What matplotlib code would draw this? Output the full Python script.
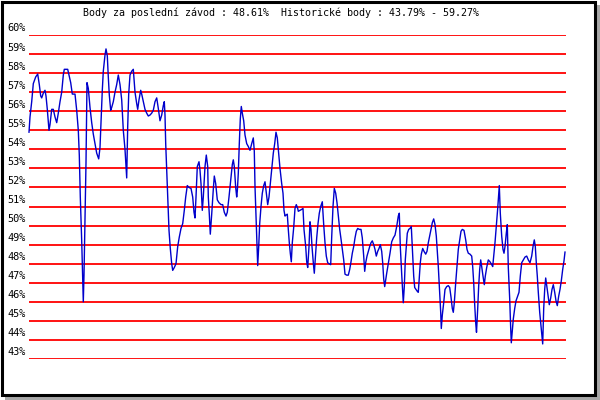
import matplotlib
matplotlib.use("Agg")
import matplotlib.pyplot as plt
from matplotlib.patches import Rectangle

title = "Body za poslední závod : 48.61%  Historické body : 43.79% - 59.27%"
y_ticks = list(range(43, 61))

# race position along the axis and score in percent
race = [
    0, 1, 2.7, 4.3, 6.7, 8.7, 10.3, 11.7, 12.7, 14.3, 16, 17, 18.3, 20, 21, 22.7,
    24.3, 26, 27.7, 29.3, 31, 32.7, 34.3, 35.3, 38.7, 40, 41.7, 43.3, 46, 47.7,
    49.3, 50.3, 51.3, 52.7, 53.7, 54.3, 55, 56, 57, 58, 59.3, 61, 62.7, 64.3, 66,
    67.7, 69.7, 71, 72, 73.3, 74.3, 76, 77, 78.3, 79.3, 80.3, 81.7, 82.7, 84.3,
    86, 87.7, 89.3, 91,
    92.7, 94.3, 96, 97, 97.7, 98.7, 99.7, 101, 102.7, 104.3, 106, 107.7, 108.7,
    110, 111.7, 112.7, 114.3, 116, 117.7, 119.3, 121, 122.7, 124.3, 126, 127.7,
    129.3, 131, 132.7, 134.3, 135.3, 136, 136.7, 137.7, 138.7, 140, 141.3, 142.7,
    143.7, 145.3, 147, 148.7, 150.3, 152, 153.7, 155.3, 156.7, 158.3, 160, 162,
    163.7, 165, 166, 167, 168.3, 170, 171, 172, 173.3, 174.3, 176, 177.3,
    178.7, 179.3, 180.3, 181.3, 182.7, 184.3, 185.3, 186.7, 188.3, 190, 192,
    193.7, 195.3, 197, 198.3, 200, 201.7, 203.3, 204.3, 205.3, 206.7, 207.7,
    208.3, 209.3, 210.3, 211.3, 212.3, 213.3, 214.7, 216, 217.7, 219.3, 221,
    222.7, 224.3, 225.3, 226, 227, 228, 228.7, 229.7, 230.7, 232, 233.3, 234.7,
    236, 237.3, 238.7, 240, 241.3, 242.7, 244.3, 245.7, 247, 248.3, 249.7, 251,
    252.7, 254, 255, 256, 257, 258.3, 259.3, 260.3, 261.3, 262.3, 263.3, 264.7,
    266, 267.3, 268.7,
    269.3, 271, 272.7, 274, 275, 276.7, 277.7, 278.7, 280, 281, 282, 283, 284.3,
    285.3, 286.7, 287.7, 289, 290.3, 291.7, 293.3, 294.7, 296, 297.3, 298.7, 300,
    301.7, 302.7, 304, 305.3, 306.7, 308, 309.3, 310.7, 312, 313.3, 314.7, 316,
    317.7, 319.3, 320.7, 322, 323.3, 324.7, 326, 327.3, 328.7, 330.3, 332, 333.3,
    334.7, 335.7, 336.7, 338, 339.3, 340.7, 342, 343.3, 344.7, 346, 347.3, 348.7,
    350, 351.3, 352.7, 353.7, 354.7, 355.7,
    357.7, 359.3, 361, 362.7, 364.3, 366, 367.7, 369.3, 370.3, 371.3, 372.7,
    373.7, 374.3, 375.3, 376.3, 377.3, 378.3, 379.7, 381, 382.3, 383.7, 384.7,
    385.7, 387, 388.3, 389.3, 390.3, 391.3, 392.3, 393.7, 395, 396.7, 398, 399.3,
    400.7, 402, 403.3, 404.7, 406, 407.3, 408.3, 409.3, 410.7, 411.7, 412.3,
    413.3, 414.7, 416, 417.7, 419.3, 420.7, 422, 423.3, 424.3, 425.3, 426.7, 428,
    429.3, 430.7, 432, 433.3, 435, 436.7, 438, 439.3, 441, 442.7, 443.7, 444.7,
    445.7, 446.7, 447.5,
    448.7, 449.7, 450.7, 451.7, 452.7, 454, 455.3, 456.3, 457.7, 459.3, 461,
    462.7, 463.7, 464.7, 466, 467.3, 468.7, 469.7, 470.3, 471.3, 472.7, 474, 475,
    476, 477.3, 478.3, 479.3, 480.7, 481.7, 482.3, 483.3, 484.3, 485.7, 487,
    488.7, 490, 491.3, 492.7, 494.3, 496, 497.7, 499.3, 501, 502.7, 504, 505.3,
    506.3, 507.3, 508.3, 509.3, 510.7, 512, 513, 513.7, 514.7, 515.7, 516.7,
    517.7, 519, 520.3, 521.7, 523, 524.3, 525.7, 527, 528.3, 529.7, 531, 532.3,
    533.7, 535, 536,
]
score = [
    54.9, 55.7, 56.5, 57.45, 57.8, 57.95, 57.4, 56.8, 56.7, 56.95, 57.1, 56.8,
    56.1, 55.0, 55.3, 56.1, 56.1, 55.7, 55.4, 55.9, 56.5, 57.0, 57.9, 58.2, 58.2,
    57.9, 57.5, 56.9, 56.9, 56.05, 55.0, 53.7, 51.5, 49.2, 47.1, 46.0, 47.4, 50.3,
    53.3, 57.5, 57.2, 56.2, 55.4, 54.8, 54.3, 53.8, 53.5, 54.1, 55.4, 57.1, 58.1,
    58.95, 59.27, 58.9, 57.8, 56.85, 56.05, 56.2, 56.5, 57.0, 57.4, 57.9, 57.4,
    56.6, 55.0, 54.0, 53.1, 52.5, 55.2, 56.9, 57.9, 58.1, 58.2, 57.0, 56.4, 56.1,
    56.6, 57.1, 56.9, 56.5, 56.1, 55.9, 55.75, 55.8, 55.9, 56.05, 56.5, 56.7,
    56.15, 55.5, 55.8, 56.3, 56.5, 55.8, 54.3, 52.9, 51.5, 49.75, 48.8, 48.0,
    47.65, 47.8, 48.0, 48.9, 49.4, 49.85, 50.1, 50.8, 51.5, 52.1, 52.0, 51.95,
    51.5, 50.7, 50.4, 51.5, 53.1, 53.35, 52.9, 52.2, 50.8, 51.5, 53.1, 53.7,
    53.1, 51.5, 50.6, 49.55, 50.6, 51.9, 52.6, 52.2, 51.35, 51.2, 51.1, 51.1,
    50.7, 50.5, 50.7, 51.5, 52.4, 53.2, 53.45, 53.1, 52.0, 51.5, 51.8, 52.75,
    54.3, 55.6, 56.25, 55.9, 55.5, 54.75, 54.3, 54.15, 53.95, 54.3, 54.6, 53.9,
    52.05, 50.5, 49.1, 47.9, 48.9, 50.1, 51.0, 51.7, 52.1, 52.3, 51.7, 51.1,
    51.5, 52.2, 53.0, 53.8, 54.3, 54.9, 54.6, 53.8, 53.0, 52.2, 51.7, 50.8, 50.5,
    50.55, 50.6, 49.8, 49.1, 48.55, 48.1, 49.1, 49.9, 50.9, 51.1, 50.9,
    50.75, 50.8, 50.85, 50.9, 49.8, 48.9, 48.1, 47.8, 48.9, 50.2, 49.8, 48.9,
    48.05, 47.5, 48.55, 49.35, 50.1, 50.65, 51.0, 51.25, 50.05, 49.1, 48.4, 48.05,
    48.0, 47.95, 49.4, 51.0, 51.95, 51.7, 51.2, 50.5, 49.8, 49.3, 48.75, 48.2,
    47.45, 47.4, 47.4, 47.7, 48.1, 48.55, 48.9, 49.35, 49.7, 49.85, 49.8, 49.8,
    49.35, 48.4, 47.6, 48.05, 48.4, 48.65, 48.9, 49.1, 49.2, 49.0, 48.75, 48.4,
    48.65, 48.8, 49.0, 48.65, 48.05, 47.2, 46.8,
    47.5, 48.0, 48.55, 49.15, 49.35, 49.5, 49.95, 50.5, 50.65, 48.9, 47.45, 46.55,
    45.95, 46.8, 48.2, 48.9, 49.6, 49.8, 49.85, 49.95, 48.4, 47.35, 46.75, 46.65,
    46.55, 46.5, 47.3, 48.05, 48.5, 48.8, 48.65, 48.5, 48.65, 49.1, 49.45, 49.8,
    50.15, 50.35, 50.05, 49.45, 48.65, 47.85, 46.5, 45.45, 44.6, 45.3, 45.95,
    46.65, 46.8, 46.85, 46.75, 46.25, 45.65, 45.45, 45.95, 47.0, 47.85, 48.75,
    49.25, 49.7, 49.8, 49.75, 49.25, 48.75, 48.55, 48.5, 48.4, 47.85, 47.0, 45.85,
    44.9, 44.4,
    45.65, 46.85, 47.7, 48.2, 47.85, 47.35, 46.9, 47.35, 47.8, 48.2, 48.1, 47.95,
    47.85, 48.4, 49.1, 49.95, 50.9, 51.7, 52.1, 50.65, 49.45, 48.75, 48.55, 48.9,
    49.6, 50.05, 47.8, 46.15, 44.6, 43.85, 44.5, 45.1, 45.65, 46.05, 46.3, 46.5,
    47.35, 48.05, 48.2, 48.35, 48.4, 48.2, 48.05, 48.4, 48.9, 49.25, 48.9, 48.05,
    47.35, 46.5, 45.45, 44.75, 44.25, 43.79, 45.65, 46.65, 47.25, 46.85, 46.3,
    45.85, 46.2, 46.65, 46.9, 46.5, 46.05, 45.8, 46.3, 46.65, 47.1, 47.7, 48.15,
    48.61,
]

fig = plt.figure(figsize=(6, 4), dpi=100)

# frame with grey drop shadow
bg = fig.add_axes([0, 0, 1, 1])
bg.set_xlim(0, 600)
bg.set_ylim(400, 0)
bg.axis("off")
bg.add_patch(Rectangle((5, 5), 595, 395, facecolor="#a8a8a8", edgecolor="none"))
bg.add_patch(Rectangle((1.5, 1.5), 593, 393, facecolor="white",
                       edgecolor="black", linewidth=2.2))
bg.text(83, 13, title, ha="left", va="center", fontsize=7.2,
        family="DejaVu Sans Mono", color="black")

ax = fig.add_axes([29 / 600, 1 - 359 / 400, 537 / 600, 324 / 400])
ax.set_xlim(0, 537)
ax.set_ylim(43, 60)
ax.axis("off")
ax.patch.set_visible(False)

for v in y_ticks:
    ax.axhline(v, color="#ff0000", linewidth=1.3, zorder=1)
    ax.annotate(f"{v}%", xy=(0, v), xycoords=ax.get_yaxis_transform(),
                xytext=(-3, 1.5), textcoords="offset pixels",
                ha="right", va="bottom", fontsize=7.4,
                family="DejaVu Sans Mono", color="black",
                annotation_clip=False)

ax.plot(race, score, color="#0000cc", linewidth=1.0, zorder=2,
        clip_on=False)

fig.savefig("out.png", dpi=100)
